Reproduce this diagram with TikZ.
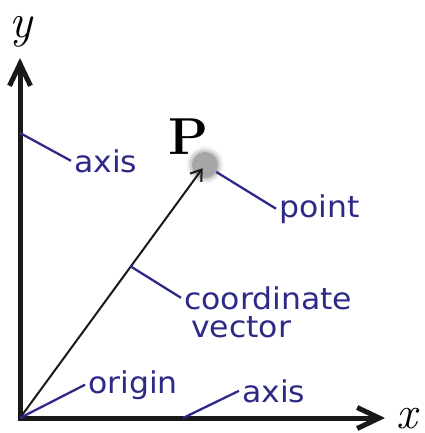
\documentclass[tikz,border=0pt]{standalone}
\usepackage{fontspec}
\newfontfamily\hand[FakeStretch=1.05]{DejaVu Sans}
\usetikzlibrary{arrows.meta}
\definecolor{ink}{HTML}{2D2A87}
\begin{document}
\begin{tikzpicture}[x=1pt,y=-1pt,
  axisline/.style={line width=5pt, draw=black!90, line join=miter,
    {Straight Barb[length=22pt,width=21pt]}-{Straight Barb[length=22pt,width=21pt]}},
  vec/.style={line width=2pt, draw=black!90, -{Straight Barb[length=10pt,width=14pt]}, shorten >=4pt},
  leader/.style={draw=ink, line width=2.3pt},
  lbl/.style={text=ink, font=\hand\fontsize{30}{24}\selectfont, inner xsep=3pt, inner ysep=0pt, anchor=base west},
  axlbl/.style={font=\fontsize{46}{46}\selectfont\itshape, inner sep=0pt, anchor=base west},
]
\useasboundingbox (0,0) rectangle (424,433);
% axes
\coordinate (O) at (20,418);
\coordinate (ytip) at (20,58);
\coordinate (xtip) at (385,418);
\draw[axisline] (ytip) -- (O) -- (xtip);
\node[axlbl, font=\fontsize{48}{48}\selectfont\itshape] (ylbl) at (9,38) {y};
\node[axlbl] (xlbl) at (396,428) {x};
% point
\coordinate (pc) at (205,165);
\foreach \r/\o in {19/0.08,17.5/0.14,16/0.22,14.5/0.35}
  \fill[black!35, opacity=\o] (pc) circle (\r);
\node[circle, fill=black!35, minimum size=26pt, inner sep=0pt] (P) at (pc) {};
\node[font=\fontsize{52}{52}\selectfont\bfseries, inner sep=0pt, anchor=base west] (Plbl) at (168,154) {P};
% vector
\draw[vec] (O) -- (P.center);
% labels
\coordinate (ya) at (20,133);
\coordinate (va) at (130,266);
\coordinate (xa) at (183,418);
\node[lbl] (laxy) at (71,172) {axis};
\node[lbl] (lpoint) at (276,217) {point};
\node[lbl] (lcoord) at (181,309) {coordinate};
\node[lbl] (lvec) at (188,337) {vector};
\node[lbl] (lorig) at (85,393) {origin};
\node[lbl] (laxx) at (239,402) {axis};
\draw[leader] (ya) -- (laxy.west);
\draw[leader] (P) -- (lpoint.west);
\draw[leader] (va) -- (lcoord.west);
\draw[leader] (O) -- (lorig.west);
\draw[leader] (xa) -- (laxx.west);
\end{tikzpicture}
\end{document}
